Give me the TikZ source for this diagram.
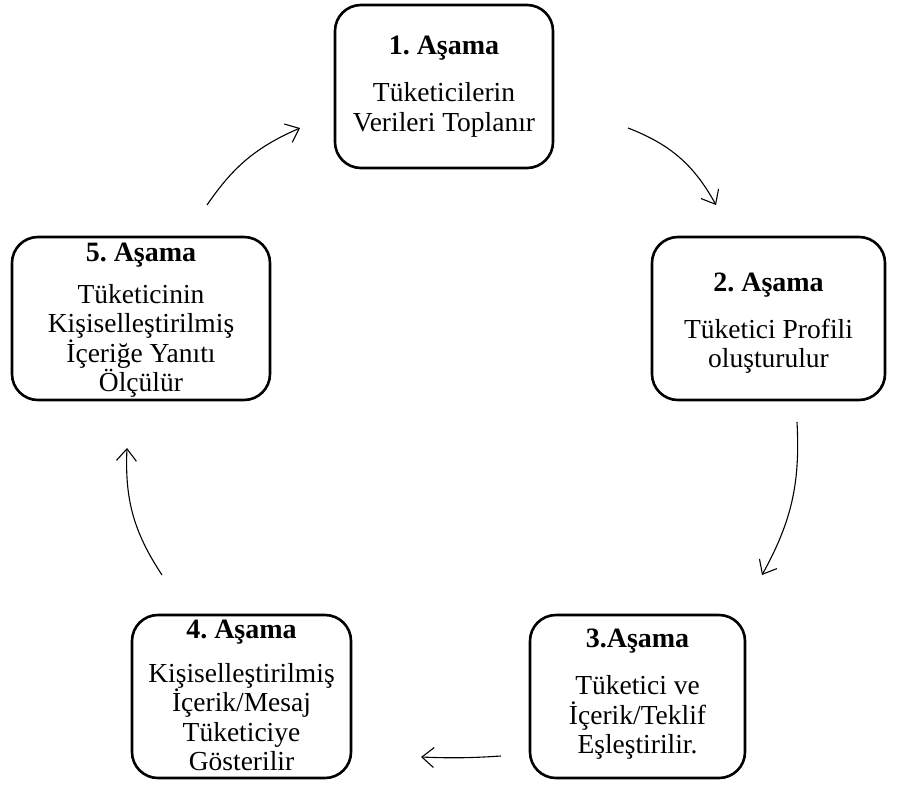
\documentclass[tikz,border=0pt]{standalone}
\usepackage{fontspec}
\setmainfont{Liberation Serif}
\usetikzlibrary{arrows.meta}
\frenchspacing
\begin{document}
\begin{tikzpicture}[x=1pt,y=-1pt,
  stagebox/.style={draw,line width=2.6pt,rounded corners=26pt,minimum height=163pt,inner sep=0pt},
  stagetitle/.style={font=\fontsize{28}{30}\selectfont\bfseries,inner sep=0pt},
  stagetext/.style={font=\fontsize{27.5}{29.5}\selectfont,align=center,inner sep=0pt},
  flow/.style={line width=1.1pt,-{Straight Barb[length=12pt,width=20pt,line width=1.1pt]}}]
\useasboundingbox (0,0) rectangle (900,785);

% stage boxes
\node[stagebox,minimum width=218pt] (s1) at (444,86.5) {};
\node[stagebox,minimum width=233pt] (s2) at (768.5,318.5) {};
\node[stagebox,minimum width=215pt] (s3) at (637.5,696.5) {};
\node[stagebox,minimum width=219pt] (s4) at (241.5,696.5) {};
\node[stagebox,minimum width=258pt] (s5) at (141,318.5) {};

% titles and descriptions
\node[stagetitle] (t1) at (444,48) {1. Aşama};
\node[stagetext] (d1) at (444,110) {Tüketicilerin\\Verileri Toplanır};

\node[stagetitle] (t2) at (768.5,285) {2. Aşama};
\node[stagetext] (d2) at (768.5,346) {Tüketici Profili\\oluşturulur};

\node[stagetitle] (t3) at (637.5,641) {3.Aşama};
\node[stagetext] (d3) at (637.5,717.5) {Tüketici ve\\İçerik/Teklif\\Eşleştirilir.};

\node[stagetitle] (t4) at (241.5,632) {4. Aşama};
\node[stagetext] (d4) at (241.5,717) {Kişiselleştirilmiş\\İçerik/Mesaj\\Tüketiciye\\Gösterilir};

\node[stagetitle] (t5) at (141,255) {5. Aşama};
\node[stagetext] (d5) at (141,341) {Tüketicinin\\Kişiselleştirilmiş\\İçeriğe Yanıtı\\Ölçülür};

% connector end points
\coordinate (a1s) at (628,128);
\coordinate (a1e) at (716,205);
\coordinate (a2s) at (797,422);
\coordinate (a2e) at (762,575);
\coordinate (a3s) at (501,756);
\coordinate (a3e) at (421,757);
\coordinate (a4s) at (162,575);
\coordinate (a4e) at (127,448);
\coordinate (a5s) at (207,205);
\coordinate (a5e) at (300,128);

% cycle arrows, each bowing outward
\draw[flow] (a1s) to[bend left=20] (a1e);
\draw[flow] (a2s) to[bend left=16] (a2e);
\draw[flow] (a3s) to[bend left=3] (a3e);
\draw[flow] (a4s) to[bend left=18] (a4e);
\draw[flow] (a5s) to[bend left=16] (a5e);
\end{tikzpicture}
\end{document}
